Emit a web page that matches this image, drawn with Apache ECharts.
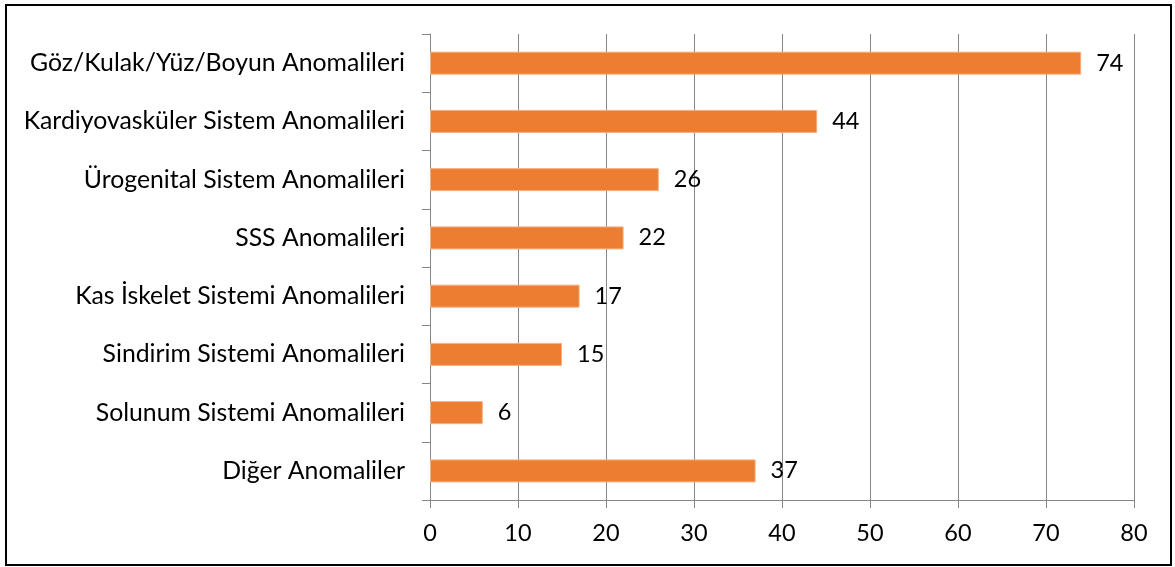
<!DOCTYPE html>
<html><head><meta charset="utf-8">
<script src="https://cdn.jsdelivr.net/npm/echarts@6/dist/echarts.min.js"></script>
<style>html,body{margin:0;padding:0;background:#fff}#frame{position:absolute;left:5px;top:4px;width:1163px;height:558px;border:2px solid #000;}#c{position:absolute;left:0;top:0;width:1175px;height:567px}</style>
</head><body><div id="frame"></div><div id="c"></div>
<script>
const categories = ["Göz/Kulak/Yüz/Boyun Anomalileri","Kardiyovasküler Sistem Anomalileri","Ürogenital Sistem Anomalileri","SSS Anomalileri","Kas İskelet Sistemi Anomalileri","Sindirim Sistemi Anomalileri","Solunum Sistemi Anomalileri","Diğer Anomaliler"];
const values = [74,44,26,22,17,15,6,37];
const xTicks = [0,10,20,30,40,50,60,70,80];
const font = "Lato, 'Open Sans', sans-serif";
const fs = 23.5;
const chart = echarts.init(document.getElementById('c'), null, {renderer:'canvas'});
chart.setOption({
  animation:false,
  grid:{left:430,top:34,width:704,height:466,containLabel:false},
  xAxis:{type:'value',min:xTicks[0],max:xTicks[xTicks.length-1],interval:10,
    axisLine:{show:true,lineStyle:{color:'#868686',width:1}},
    axisTick:{show:true,length:8,lineStyle:{color:'#868686'}},
    splitLine:{show:true,lineStyle:{color:'#868686',width:1}},
    axisLabel:{color:'#000',fontSize:fs,fontFamily:font,margin:21}},
  yAxis:{type:'category',data:categories,inverse:true,
    axisLine:{show:true,lineStyle:{color:'#868686',width:1}},
    axisTick:{show:true,length:8,lineStyle:{color:'#868686'}},
    axisLabel:{color:'#000',fontSize:24.8,fontFamily:font,margin:25}},
  series:[{type:'bar',data:values,barWidth:23,
    itemStyle:{color:'#ED7D31',borderColor:'#F4B183',borderWidth:1},
    label:{show:true,position:'right',distance:15,color:'#000',fontSize:fs,fontFamily:font}}]
});
</script></body></html>
